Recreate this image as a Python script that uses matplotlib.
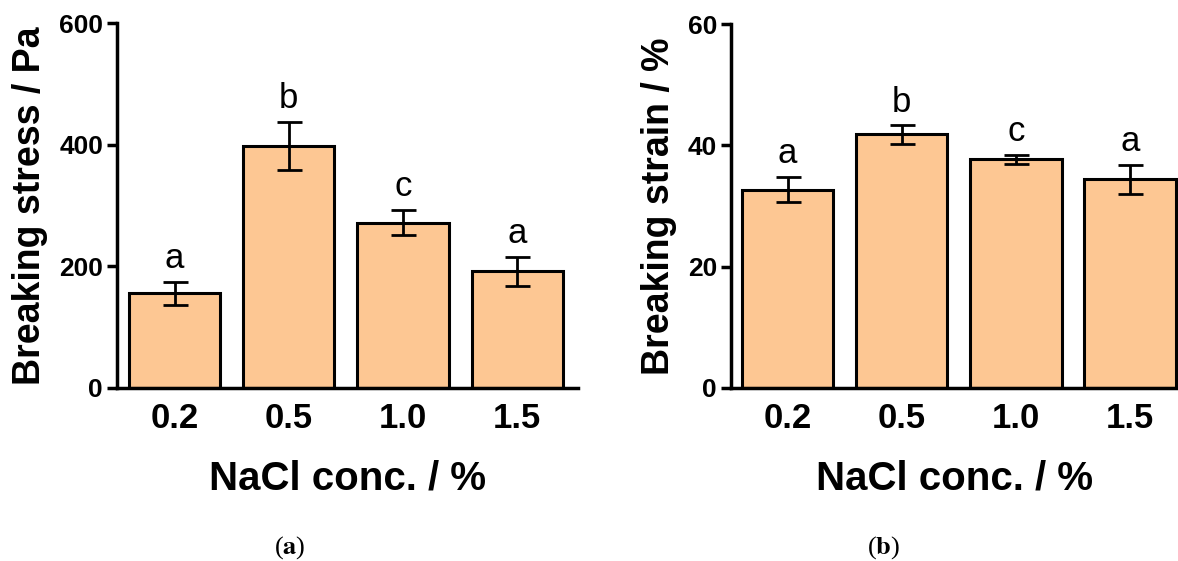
import matplotlib.pyplot as plt
import numpy as np

plt.rcParams['font.family'] = ['Liberation Sans', 'DejaVu Sans']
plt.rcParams['mathtext.fontset'] = 'stix'

# data
conc = ['0.2', '0.5', '1.0', '1.5']
stress_mean = [156, 398, 272, 192]
stress_err = [19, 40, 21, 24]
stress_letters = ['a', 'b', 'c', 'a']
strain_mean = [32.7, 41.8, 37.7, 34.4]
strain_err = [2.1, 1.5, 0.7, 2.4]
strain_letters = ['a', 'b', 'c', 'a']

fill = '#FDC793'

fig = plt.figure(figsize=(11.78, 5.61), dpi=100)
ax1 = fig.add_axes([0.0993, 0.3084, 0.4905 - 0.0993, 0.959 - 0.3084])
ax2 = fig.add_axes([0.6205, 0.3084, 1.0 - 0.6205, 0.957 - 0.3084])


def panel(ax, means, errs, letters, ymax, yticks, ylabel, xlim):
    x = np.arange(len(conc))
    ax.bar(x, means, width=0.8, color=fill, edgecolor='black', linewidth=2.2, zorder=2)
    ax.errorbar(x, means, yerr=errs, fmt='none', ecolor='black', elinewidth=2.0,
                capsize=9, capthick=2.0, zorder=3)
    for xi, m, e, t in zip(x, means, errs, letters):
        ax.annotate(t, (xi, m + e), xytext=(0, 10), textcoords='offset points',
                    ha='center', va='baseline', fontsize=25)
    ax.set_xlim(*xlim)
    ax.set_ylim(0, ymax)
    ax.set_yticks(yticks)
    ax.set_xticks(x)
    ax.set_xticklabels(conc, fontsize=25, fontweight='bold')
    ax.tick_params(axis='x', length=0, pad=10)
    ax.tick_params(axis='y', length=7, width=2.5, labelsize=19, pad=3)
    for lbl in ax.get_yticklabels():
        lbl.set_fontweight('bold')
    ax.spines['top'].set_visible(False)
    ax.spines['right'].set_visible(False)
    ax.spines['left'].set_linewidth(2.5)
    ax.spines['bottom'].set_linewidth(2.5)
    ax.set_xlabel('NaCl conc. / %', fontsize=29, fontweight='bold', labelpad=18)
    ax.set_ylabel(ylabel, fontsize=27, fontweight='bold', labelpad=8)


panel(ax1, stress_mean, stress_err, stress_letters, 600, [0, 200, 400, 600],
      'Breaking stress / Pa', (-0.504, 3.53))
panel(ax2, strain_mean, strain_err, strain_letters, 60, [0, 20, 40, 60],
      'Breaking strain / %', (-0.497, 3.42))

fig.text(290 / 1178, 1 - 548 / 561, r'($\mathbf{a}$)', ha='center', va='center',
         fontsize=19, family='Liberation Serif')
fig.text(884 / 1178, 1 - 548 / 561, r'($\mathbf{b}$)', ha='center', va='center',
         fontsize=19, family='Liberation Serif')

fig.savefig('out.png', dpi=100)
